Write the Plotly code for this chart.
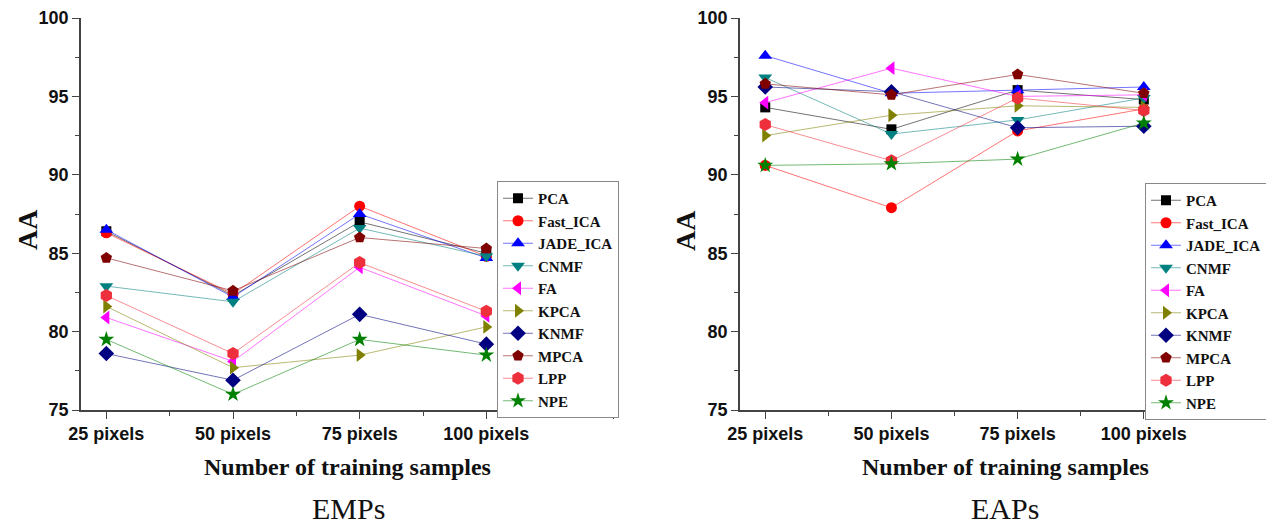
import plotly.graph_objects as go

# The page body adds an 8 px margin, so the figure is drawn slightly smaller
# and all reference pixel positions are shifted by that offset.
OFF = 8
W, H = 1274 - OFF, 526 - OFF

x_vals = [25, 50, 75, 100]
x_labels = ["25 pixels", "50 pixels", "75 pixels", "100 pixels"]
methods = ["PCA", "Fast_ICA", "JADE_ICA", "CNMF", "FA", "KPCA", "KNMF", "MPCA", "LPP", "NPE"]

# EMPs (left panel)
emp_PCA = [86.4, 82.3, 87.0, 85.0]
emp_Fast_ICA = [86.3, 82.4, 88.0, 84.8]
emp_JADE_ICA = [86.5, 82.2, 87.5, 84.7]
emp_CNMF = [82.9, 81.9, 86.6, 84.8]
emp_FA = [80.9, 78.1, 84.1, 81.0]
emp_KPCA = [81.6, 77.7, 78.5, 80.3]
emp_KNMF = [78.6, 76.9, 81.1, 79.2]
emp_MPCA = [84.7, 82.6, 86.0, 85.3]
emp_LPP = [82.3, 78.6, 84.4, 81.3]
emp_NPE = [79.5, 76.0, 79.5, 78.5]

# EAPs (right panel)
eap_PCA = [94.3, 92.9, 95.4, 94.8]
eap_Fast_ICA = [90.6, 87.9, 92.8, 94.2]
eap_JADE_ICA = [97.6, 95.2, 95.4, 95.6]
eap_CNMF = [96.2, 92.6, 93.5, 94.9]
eap_FA = [94.6, 96.8, 95.0, 95.1]
eap_KPCA = [92.5, 93.8, 94.4, 94.3]
eap_KNMF = [95.6, 95.3, 93.0, 93.1]
eap_MPCA = [95.8, 95.1, 96.4, 95.2]
eap_LPP = [93.2, 90.9, 94.9, 94.1]
eap_NPE = [90.6, 90.7, 91.0, 93.3]

emp_data = [emp_PCA, emp_Fast_ICA, emp_JADE_ICA, emp_CNMF, emp_FA, emp_KPCA,
            emp_KNMF, emp_MPCA, emp_LPP, emp_NPE]
eap_data = [eap_PCA, eap_Fast_ICA, eap_JADE_ICA, eap_CNMF, eap_FA, eap_KPCA,
            eap_KNMF, eap_MPCA, eap_LPP, eap_NPE]

colors = ["#000000", "#FF0000", "#0000FF", "#008080", "#FF00FF", "#808000",
          "#000080", "#800000", "#EE2F3C", "#008000"]
symbols = ["square", "circle", "triangle-up", "triangle-down", "triangle-left",
           "triangle-right", "diamond", "pentagon", "hexagon", "star"]
sizes = [10, 11, 12, 12, 12, 12, 12, 12, 13, 12]


def faded(hexcol, a=0.55):
    r, g, b = int(hexcol[1:3], 16), int(hexcol[3:5], 16), int(hexcol[5:7], 16)
    return f"rgba({r},{g},{b},{a})"


fig = go.Figure()

for i, m in enumerate(methods):
    fig.add_trace(go.Scatter(
        x=x_vals, y=emp_data[i], mode="lines+markers", name=m,
        line=dict(color=faded(colors[i]), width=1),
        marker=dict(symbol=symbols[i], size=sizes[i], color=colors[i], line=dict(width=0)),
        xaxis="x", yaxis="y", legend="legend"))
for i, m in enumerate(methods):
    fig.add_trace(go.Scatter(
        x=x_vals, y=eap_data[i], mode="lines+markers", name=m,
        line=dict(color=faded(colors[i]), width=1),
        marker=dict(symbol=symbols[i], size=sizes[i], color=colors[i], line=dict(width=0)),
        xaxis="x2", yaxis="y2", legend="legend2"))


def px(x):
    return (x - OFF) / W


def py(y):
    return 1 - (y - OFF) / H


tickfont = dict(family="Liberation Sans", size=18, color="#111111", weight="bold")
axis_common = dict(showline=True, linecolor="#444444", linewidth=1.6, ticks="outside",
                   ticklen=7, tickwidth=1.4, tickcolor="#444444", showgrid=False,
                   zeroline=False, tickfont=tickfont, mirror=False, automargin=False)

xaxis_cfg = dict(axis_common, range=[20, 125], tickvals=x_vals + [125],
                 ticktext=x_labels + [""],
                 minor=dict(tickvals=[37.5, 62.5, 87.5, 112.5], ticklen=4,
                            tickcolor="#444444", tickwidth=1.2))
yaxis_cfg = dict(axis_common, range=[75, 100], tickvals=[75, 80, 85, 90, 95, 100],
                 minor=dict(tickvals=[77.5, 82.5, 87.5, 92.5, 97.5], ticklen=4,
                            tickcolor="#444444", tickwidth=1.2))

y_dom = [py(410), py(18)]
fig.update_layout(
    width=W, height=H, margin=dict(l=0, r=0, t=0, b=0, autoexpand=False),
    paper_bgcolor="white", plot_bgcolor="white",
    xaxis=dict(xaxis_cfg, domain=[px(81), px(613)], anchor="y"),
    yaxis=dict(yaxis_cfg, domain=y_dom, anchor="x"),
    xaxis2=dict(xaxis_cfg, domain=[px(740), px(1270)], anchor="y2"),
    yaxis2=dict(yaxis_cfg, domain=y_dom, anchor="x2"),
    showlegend=True,
)

legend_common = dict(bgcolor="white", bordercolor="#888888", borderwidth=1,
                     font=dict(family="Liberation Serif", size=15, color="#111111", weight="bold"),
                     xanchor="left", yanchor="top", tracegroupgap=0,
                     itemwidth=30)
fig.update_layout(
    legend=dict(legend_common, x=px(497), y=py(181)),
    legend2=dict(legend_common, x=px(1145), y=py(183)),
)

serif_b = dict(family="Liberation Serif", size=24, color="#111111", weight="bold")
aa_font = dict(family="Liberation Serif", size=28, color="#111111", weight="bold")
anns = [
    dict(text="AA", x=px(27), y=py(230), textangle=-90, font=aa_font),
    dict(text="AA", x=px(685), y=py(230), textangle=-90, font=aa_font),
    dict(text="Number of training samples", x=px(347), y=py(467), font=serif_b),
    dict(text="Number of training samples", x=px(1005), y=py(467), font=serif_b),
    dict(text="EMPs", x=px(348), y=py(508),
         font=dict(family="Liberation Serif", size=30, color="#111111")),
    dict(text="EAPs", x=px(1005), y=py(508),
         font=dict(family="Liberation Serif", size=30, color="#111111")),
]
for a in anns:
    fig.add_annotation(dict(a, xref="paper", yref="paper", showarrow=False,
                            xanchor="center", yanchor="middle"))

fig.write_html("out.html")
